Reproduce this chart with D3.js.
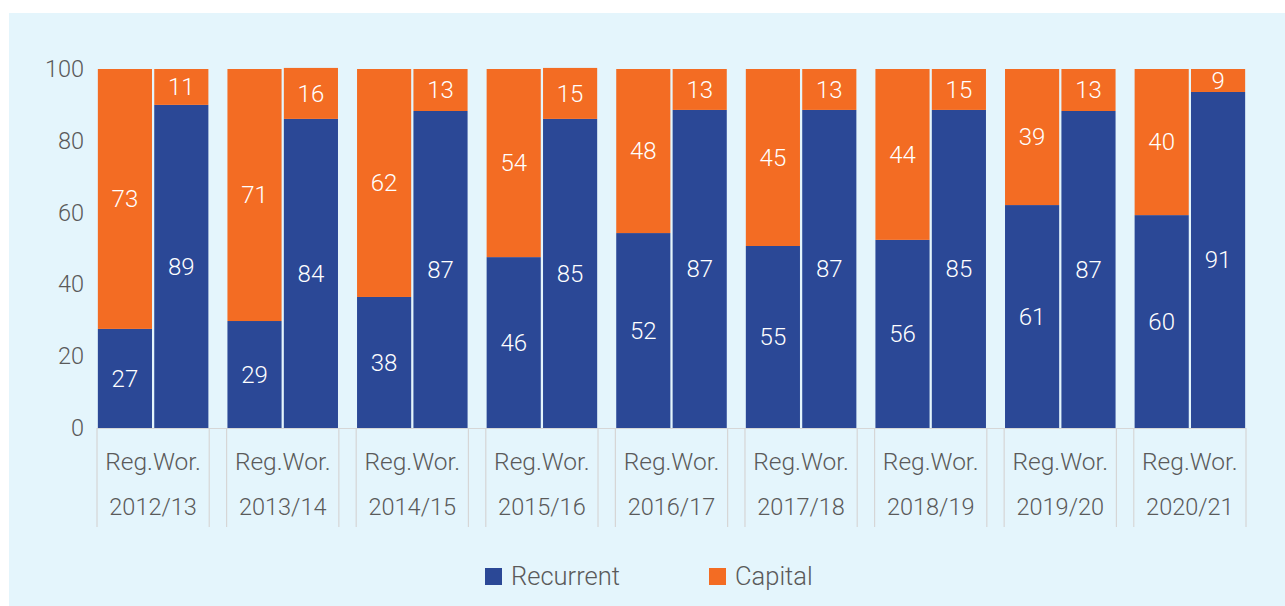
<!DOCTYPE html>
<html>
<head>
<meta charset="utf-8">
<script src="https://cdn.jsdelivr.net/npm/d3@7"></script>
<style>
  html, body { margin: 0; padding: 0; background: #ffffff; }
  svg { display: block; }
  text { font-family: Roboto, "Open Sans", sans-serif; font-weight: 300; }
</style>
</head>
<body>
<svg id="chart" width="1285" height="606"></svg>
<script>
// ---- data ----
const years = ["2012/13", "2013/14", "2014/15", "2015/16", "2016/17", "2017/18", "2018/19", "2019/20", "2020/21"];
const subCategories = ["Reg.", "Wor."];
const subLabel = "Reg.Wor.";
const seriesNames = ["Recurrent", "Capital"];

// bar heights as drawn
const regRecurrent = [27.6, 29.8, 36.5, 47.6, 54.3, 50.7, 52.4, 62.1, 59.3];
const regCapital   = [72.4, 70.2, 63.5, 52.4, 45.7, 49.3, 47.6, 37.9, 40.7];
const worRecurrent = [90.0, 86.1, 88.3, 86.1, 88.6, 88.6, 88.6, 88.3, 93.6];
const worCapital   = [10.0, 14.2, 11.7, 14.2, 11.4, 11.4, 11.4, 11.7, 6.4];

// printed labels
const regRecurrentLabels = [27, 29, 38, 46, 52, 55, 56, 61, 60];
const regCapitalLabels   = [73, 71, 62, 54, 48, 45, 44, 39, 40];
const worRecurrentLabels = [89, 84, 87, 85, 87, 87, 85, 87, 91];
const worCapitalLabels   = [11, 16, 13, 15, 13, 13, 15, 13, 9];

const yTicks = [0, 20, 40, 60, 80, 100];

// ---- layout ----
const colors = { Recurrent: "#2b4896", Capital: "#f36c23" };
const textColor = "#5a5a5a";
const svg = d3.select("#chart");

svg.append("rect").attr("x", 9).attr("y", 13).attr("width", 1285 - 9).attr("height", 606 - 13)
  .attr("fill", "#e4f5fc");

const x0 = d3.scaleBand().domain(years).range([97, 1246]).paddingInner(0.134).paddingOuter(0);
const x1 = d3.scaleBand().domain(subCategories).range([0, x0.bandwidth()]).paddingInner(0.04).paddingOuter(0.015);
const y = d3.scaleLinear().domain([0, 100]).range([428, 69]);

// rows
const rows = [];
years.forEach((yr, i) => {
  rows.push({ year: yr, sub: "Reg.", rec: regRecurrent[i], cap: regCapital[i], recL: regRecurrentLabels[i], capL: regCapitalLabels[i] });
  rows.push({ year: yr, sub: "Wor.", rec: worRecurrent[i], cap: worCapital[i], recL: worRecurrentLabels[i], capL: worCapitalLabels[i] });
});

const g = svg.append("g");

// axis box lines
const axisG = svg.append("g").attr("stroke", "#d6d6d6").attr("stroke-width", 1.2);
axisG.append("line").attr("x1", x0.range()[0]).attr("x2", x0.range()[1])
  .attr("y1", y(0) + 0.5).attr("y2", y(0) + 0.5);
years.forEach(yr => {
  [x0(yr), x0(yr) + x0.bandwidth()].forEach(xx => {
    axisG.append("line").attr("x1", xx).attr("x2", xx).attr("y1", y(0)).attr("y2", 527);
  });
});

// bars
const bars = g.selectAll("g.bar").data(rows).join("g").attr("class", "bar")
  .attr("transform", d => `translate(${x0(d.year) + x1(d.sub)},0)`);

bars.append("rect")
  .attr("x", 0).attr("width", x1.bandwidth())
  .attr("y", d => y(d.rec)).attr("height", d => y(0) - y(d.rec))
  .attr("fill", colors.Recurrent);
bars.append("rect")
  .attr("x", 0).attr("width", x1.bandwidth())
  .attr("y", d => y(d.rec + d.cap)).attr("height", d => y(d.rec) - y(d.rec + d.cap))
  .attr("fill", colors.Capital);

bars.append("text")
  .attr("x", x1.bandwidth() / 2)
  .attr("y", d => y(d.rec / 2))
  .attr("dy", "0.35em")
  .attr("text-anchor", "middle")
  .attr("fill", "#ffffff").attr("font-size", 24)
  .text(d => d.recL);
bars.append("text")
  .attr("x", x1.bandwidth() / 2)
  .attr("y", d => y(d.rec + d.cap / 2))
  .attr("dy", "0.35em")
  .attr("text-anchor", "middle")
  .attr("fill", "#ffffff").attr("font-size", 24)
  .text(d => d.capL);

// y axis
const yAxis = d3.axisLeft(y).tickValues(yTicks).tickSize(0).tickPadding(0);
const yG = svg.append("g").attr("transform", "translate(84,0)").call(yAxis);
yG.select(".domain").remove();
yG.selectAll("text").attr("font-size", 23.5).attr("fill", textColor)
  .style("font-family", "Roboto, sans-serif").style("font-weight", 300);

// x labels
const xl = svg.append("g");
years.forEach(yr => {
  const cx = x0(yr) + x0.bandwidth() / 2;
  xl.append("text").attr("x", cx).attr("y", 461).attr("dy", "0.35em")
    .attr("text-anchor", "middle").attr("font-size", 24.5).attr("fill", textColor).text(subLabel);
  xl.append("text").attr("x", cx).attr("y", 507).attr("dy", "0.35em")
    .attr("text-anchor", "middle").attr("font-size", 23.5).attr("fill", textColor).text(yr);
});

// legend
const legendX = [485, 709];
const lg = svg.append("g");
seriesNames.forEach((s, i) => {
  lg.append("rect").attr("x", legendX[i]).attr("y", 568).attr("width", 17).attr("height", 17).attr("fill", colors[s]);
  lg.append("text").attr("x", legendX[i] + 26).attr("y", 576.5).attr("dy", "0.35em")
    .attr("font-size", 25.5).attr("fill", textColor).text(s);
});
</script>
</body>
</html>
